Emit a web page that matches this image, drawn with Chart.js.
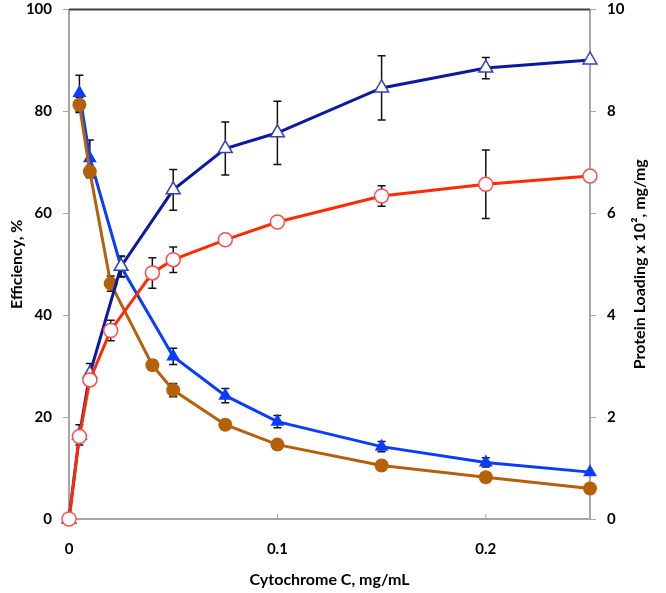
<!DOCTYPE html>
<html>
<head>
<meta charset="utf-8">
<script src="https://cdn.jsdelivr.net/npm/chart.js@4"></script>
<style>
  html, body { margin: 0; padding: 0; background: #fff; }
  #wrap { width: 666px; height: 593px; }
</style>
</head>
<body>
<div id="wrap"><canvas id="chart"></canvas></div>
<script>
// protein loading (right axis, x 10^2 mg/mg)
const triX = [0, 0.005, 0.01, 0.025, 0.05, 0.075, 0.1, 0.15, 0.2, 0.25]
const triLoad = [0, 1.65, 2.85, 4.96, 6.46, 7.27, 7.58, 8.46, 8.85, 9.01]
const triLoadErr = [0, 0.2, 0.2, 0.2, 0.4, 0.52, 0.62, 0.63, 0.21, 0]

const circX = [0, 0.005, 0.01, 0.02, 0.04, 0.05, 0.075, 0.1, 0.15, 0.2, 0.25]
const circLoad = [0, 1.62, 2.73, 3.7, 4.83, 5.09, 5.48, 5.83, 6.34, 6.57, 6.73]
const circLoadErr = [0, 0, 0, 0.2, 0.3, 0.25, 0, 0, 0.2, 0.67, 0]

// efficiency (left axis, %)
const effTriX = [0.005, 0.01, 0.025, 0.05, 0.075, 0.1, 0.15, 0.2, 0.25]
const effTri = [83.6, 70.8, 49.5, 31.9, 24.2, 19.1, 14.2, 11.1, 9.2]
const effTriErr = [3.5, 3.6, 2, 1.6, 1.4, 1.2, 1, 0.9, 0]

const effCircX = [0.005, 0.01, 0.02, 0.04, 0.05, 0.075, 0.1, 0.15, 0.2, 0.25]
const effCirc = [81.3, 68.2, 46.2, 30.2, 25.3, 18.5, 14.6, 10.5, 8.2, 6.0]
const effCircErr = [1.5, 1.2, 1.5, 1.0, 1.3, 0.8, 0.6, 0.5, 0.5, 0]

const xTicks = [0, 0.1, 0.2]
const FONT = "Lato, 'Open Sans', sans-serif"

const pts = (xs, ys) => xs.map((x, i) => ({ x: x, y: ys[i] }))

// error bars + frame bits drawn through the chart scales
const extras = {
  id: "extras",
  beforeDatasetsDraw(chart) {
    const ctx = chart.ctx
    ctx.save()
    ctx.strokeStyle = "#111"
    ctx.lineWidth = 1.5
    chart.data.datasets.forEach((ds) => {
      const ys = chart.scales[ds.yAxisID]
      ds.data.forEach((p, i) => {
        const e = ds.err[i]
        if (!e) return
        const px = chart.scales.x.getPixelForValue(p.x)
        const top = ys.getPixelForValue(p.y + e)
        const bot = ys.getPixelForValue(p.y - e)
        ctx.beginPath()
        ctx.moveTo(px, top); ctx.lineTo(px, bot)
        ctx.moveTo(px - 4, top); ctx.lineTo(px + 4, top)
        ctx.moveTo(px - 4, bot); ctx.lineTo(px + 4, bot)
        ctx.stroke()
      })
    })
    ctx.restore()
  },
  afterDraw(chart) {
    const ctx = chart.ctx
    const a = chart.chartArea
    ctx.save()
    // top border
    ctx.strokeStyle = "#404040"
    ctx.lineWidth = 2
    ctx.beginPath()
    ctx.moveTo(a.left, a.top); ctx.lineTo(a.right, a.top)
    ctx.stroke()
    // inner x ticks
    ctx.strokeStyle = "#a6a6a6"
    ctx.lineWidth = 1
    xTicks.slice(1).forEach((v) => {
      const px = chart.scales.x.getPixelForValue(v)
      ctx.beginPath()
      ctx.moveTo(px, a.bottom); ctx.lineTo(px, a.bottom - 5)
      ctx.stroke()
    })
    // right axis title, reading bottom to top
    ctx.fillStyle = "#000"
    ctx.font = "bold 16px " + FONT
    ctx.textAlign = "center"
    ctx.textBaseline = "middle"
    ctx.translate(640, (a.top + a.bottom) / 2)
    ctx.rotate(-Math.PI / 2)
    ctx.fillText("Protein Loading x 10², mg/mg", 0, 0)
    ctx.restore()
  },
}

const fitY = (w) => (s) => {
  s.width = w
  s.paddingTop = 0
  s.paddingBottom = 0
}

new Chart(document.getElementById("chart"), {
  type: "line",
  data: {
    datasets: [
      {
        data: pts(circX, circLoad),
        err: circLoadErr,
        yAxisID: "y2",
        borderColor: "#ff2a00",
        borderWidth: 3,
        pointStyle: "circle",
        pointRadius: 7,
        pointBackgroundColor: "#ffffff",
        pointBorderColor: "#ff4d4d",
        pointBorderWidth: 1.5,
      },
      {
        data: pts(triX, triLoad),
        err: triLoadErr,
        yAxisID: "y2",
        borderColor: "#0a1aa0",
        borderWidth: 3,
        pointStyle: "triangle",
        pointRadius: 8,
        pointBackgroundColor: "#ffffff",
        pointBorderColor: "#3343b5",
        pointBorderWidth: 1.5,
      },
      {
        data: pts(effCircX, effCirc),
        err: effCircErr,
        yAxisID: "y",
        borderColor: "#b5610a",
        borderWidth: 3,
        pointStyle: "circle",
        pointRadius: 7,
        pointBackgroundColor: "#b5610a",
        pointBorderColor: "#b5610a",
        pointBorderWidth: 0,
      },
      {
        data: pts(effTriX, effTri),
        err: effTriErr,
        yAxisID: "y",
        borderColor: "#0a3cff",
        borderWidth: 3,
        pointStyle: "triangle",
        pointRadius: 8,
        pointBackgroundColor: "#0a3cff",
        pointBorderColor: "#0a3cff",
        pointBorderWidth: 0,
      },
    ],
  },
  options: {
    responsive: true,
    maintainAspectRatio: false,
    animation: false,
    datasets: { line: { clip: false } },
    layout: { padding: { top: 6, left: 0, right: 0, bottom: 0 } },
    plugins: {
      legend: { display: false },
      tooltip: { enabled: false },
    },
    scales: {
      x: {
        type: "linear",
        min: 0,
        max: 0.25,
        afterBuildTicks: (s) => { s.ticks = xTicks.map((v) => ({ value: v })) },
        afterFit: (s) => { s.height = 74 },
        grid: { display: false, drawTicks: false },
        border: { color: "#a6a6a6", width: 2 },
        ticks: { padding: 21, color: "#000", font: { family: FONT, size: 15, weight: "bold" } },
        title: {
          display: true,
          text: "Cytochrome C, mg/mL",
          color: "#000",
          font: { family: FONT, size: 16, weight: "bold" },
          padding: { top: 0, bottom: 4 },
        },
      },
      y: {
        position: "left",
        min: 0,
        max: 100,
        afterFit: fitY(69),
        grid: { drawOnChartArea: false, color: "#a6a6a6", tickLength: 6 },
        border: { color: "#a6a6a6", width: 2 },
        ticks: { stepSize: 20, padding: 11, color: "#000", font: { family: FONT, size: 15, weight: "bold" } },
        title: {
          display: true,
          text: "Efficiency, %",
          color: "#000",
          font: { family: FONT, size: 16, weight: "bold" },
          padding: { top: 7, bottom: 0 },
        },
      },
      y2: {
        position: "right",
        min: 0,
        max: 10,
        afterFit: fitY(76),
        grid: { drawOnChartArea: false, color: "#a6a6a6", tickLength: 6 },
        border: { color: "#a6a6a6", width: 2 },
        ticks: { stepSize: 2, padding: 11, color: "#000", font: { family: FONT, size: 15, weight: "bold" } },
      },
    },
  },
  plugins: [extras],
})
</script>
</body>
</html>
